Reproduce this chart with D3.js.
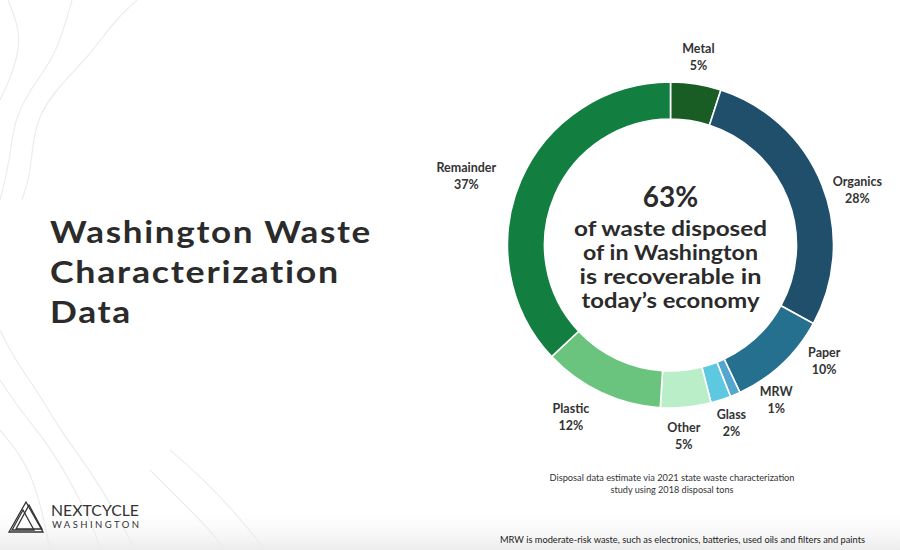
<!DOCTYPE html>
<html>
<head>
<meta charset="utf-8">
<script src="https://cdn.jsdelivr.net/npm/d3@7"></script>
<style>
  html, body { margin: 0; padding: 0; background: #fff; }
  svg { display: block; }
  text { font-family: Lato, "Open Sans", sans-serif; }
</style>
</head>
<body>
<svg id="chart" width="900" height="550"></svg>
<script>
// ---- data ----
const categories = ["Metal", "Organics", "Paper", "MRW", "Glass", "Other", "Plastic", "Remainder"];
const shares = [5, 28, 10, 1, 2, 5, 12, 37];
const colors = ["#195d24", "#1f4f6b", "#26708f", "#55a6cf", "#5ec8e1", "#b9eec9", "#6bc47e", "#127f41"];
const titleLines = ["Washington Waste", "Characterization", "Data"];
const headline = "63%";
const centerLines = ["of waste disposed", "of in Washington", "is recoverable in", "today\u2019s economy"];
const sourceLines = ["Disposal data estimate via 2021 state waste characterization", "study using 2018 disposal tons"];
const footnote = "MRW is moderate-risk waste, such as electronics, batteries, used oils and filters and paints";

// ---- layout ----
const W = 900, H = 550;
const cx = 670.5, cy = 245, rOuter = 163, rInner = 126;
const labelR = 192;
// label placement nudges (degrees of angle, radius) – layout only
const nudge = {
  Metal: {da: -0.6, r: 191}, Organics: {da: 5, r: 195}, Paper: {da: -10, r: 192},
  MRW: {da: -11, r: 187}, Glass: {da: -1, r: 187}, Other: {da: 1.4, r: 190},
  Plastic: {da: 5, r: 198}, Remainder: {da: -4.4, r: 216}
};

const svg = d3.select("#chart");

// background gradient at bottom
const defs = svg.append("defs");
const g1 = defs.append("linearGradient").attr("id", "bottomShade").attr("x1", 0).attr("y1", 0).attr("x2", 0).attr("y2", 1);
g1.append("stop").attr("offset", "0%").attr("stop-color", "#ffffff").attr("stop-opacity", 0);
g1.append("stop").attr("offset", "100%").attr("stop-color", "#ececec").attr("stop-opacity", 1);
svg.append("rect").attr("width", W).attr("height", H).attr("fill", "#fff");
svg.append("rect").attr("x", 0).attr("y", 505).attr("width", W).attr("height", 45).attr("fill", "url(#bottomShade)");

// faint topographic decoration
const decor = [
  [[8,0],[18,25],[20,45],[12,75],[0,100]],
  [[72,0],[62,35],[52,60],[30,90],[14,120],[10,160],[0,200]],
  [[137,0],[115,20],[90,55],[60,85],[38,115],[32,150],[30,175],[22,200]],
  [[0,330],[15,360],[40,395],[60,430],[90,470],[120,520],[135,550]],
  [[0,380],[20,410],[45,440],[70,480],[95,530],[100,550]],
  [[0,430],[25,460],[40,500],[50,550]],
  [[150,470],[180,500],[210,530],[225,550]],
  [[170,450],[210,485],[250,530],[265,550]]
];
const decoLine = d3.line().curve(d3.curveBasis);
svg.append("g").selectAll("path").data(decor).join("path")
  .attr("d", decoLine).attr("fill", "none").attr("stroke", "#ececec").attr("stroke-width", 1.2);

// title
const title = svg.append("g");
titleLines.forEach((t, i) => {
  title.append("text").attr("x", 50).attr("y", 243 + i * 40)
    .attr("font-size", 31).attr("font-weight", 700).attr("fill", "#2b2b2b")
    .attr("letter-spacing", "1.5px").text(t);
});
const titleWidths = [322, 290, 82];
title.selectAll("text").each(function(d, i) {
  d3.select(this).attr("textLength", titleWidths[i]).attr("lengthAdjust", "spacingAndGlyphs");
});

// donut
const pie = d3.pie().sort(null).value(d => d.v).startAngle(0).endAngle(2 * Math.PI);
const data = categories.map((c, i) => ({c, v: shares[i], color: colors[i]}));
const arcs = pie(data);
const arc = d3.arc().innerRadius(rInner).outerRadius(rOuter);
const donut = svg.append("g").attr("transform", `translate(${cx},${cy})`);
donut.selectAll("path").data(arcs).join("path")
  .attr("d", arc).attr("fill", d => d.data.color)
  .attr("stroke", "#fff").attr("stroke-width", 1.6);

// labels
const lab = donut.selectAll("g.lab").data(arcs).join("g").attr("class", "lab")
  .attr("transform", d => {
    const n = nudge[d.data.c] || {da: 0, r: labelR};
    const a = (d.startAngle + d.endAngle) / 2 + n.da * Math.PI / 180;
    return `translate(${n.r * Math.sin(a)},${-n.r * Math.cos(a)})`;
  });
lab.append("text").attr("text-anchor", "middle").attr("y", -3)
  .attr("font-size", 12.5).attr("font-weight", 700).attr("fill", "#333")
  .text(d => d.data.c);
lab.append("text").attr("text-anchor", "middle").attr("y", 14)
  .attr("font-size", 12.5).attr("font-weight", 700).attr("fill", "#333")
  .text(d => d.data.v + "%");

// center text
svg.append("text").attr("x", cx).attr("y", 207).attr("text-anchor", "middle")
  .attr("font-size", 28).attr("font-weight", 700).attr("fill", "#2b2b2b").text(headline);
const centerWidths = [193, 175, 182, 178];
centerLines.forEach((t, i) => {
  svg.append("text").attr("x", cx).attr("y", 236 + i * 24).attr("text-anchor", "middle")
    .attr("font-size", 20.5).attr("font-weight", 700).attr("fill", "#2b2b2b")
    .attr("textLength", centerWidths[i]).attr("lengthAdjust", "spacingAndGlyphs")
    .text(t);
});

// source note
const sourceWidths = [245, 123];
sourceLines.forEach((t, i) => {
  svg.append("text").attr("x", 672).attr("y", 481 + i * 12).attr("text-anchor", "middle")
    .attr("font-size", 8.8).attr("fill", "#333")
    .attr("textLength", sourceWidths[i]).attr("lengthAdjust", "spacingAndGlyphs").text(t);
});
// footnote
svg.append("text").attr("x", 500).attr("y", 543)
  .attr("font-size", 8.8).attr("fill", "#222")
  .attr("textLength", 365).attr("lengthAdjust", "spacingAndGlyphs").text(footnote);

// logo
const logo = svg.append("g");
const tri = (ax, ay, w, h) => `M${ax},${ay} L${ax + w / 2},${ay + h} L${ax - w / 2},${ay + h} Z`;
[[26, 502, 34, 30], [29, 505, 26, 24], [23, 510, 22, 20]].forEach(t => {
  logo.append("path").attr("d", tri(...t)).attr("fill", "none").attr("stroke", "#333").attr("stroke-width", 1.3);
});
logo.append("text").attr("x", 51).attr("y", 516).attr("font-size", 15).attr("fill", "#333")
  .attr("textLength", 88).attr("lengthAdjust", "spacingAndGlyphs").text("NEXTCYCLE");
logo.append("text").attr("x", 52).attr("y", 528).attr("font-size", 9.5).attr("fill", "#333")
  .attr("textLength", 87).attr("lengthAdjust", "spacing").text("WASHINGTON");
</script>
</body>
</html>
